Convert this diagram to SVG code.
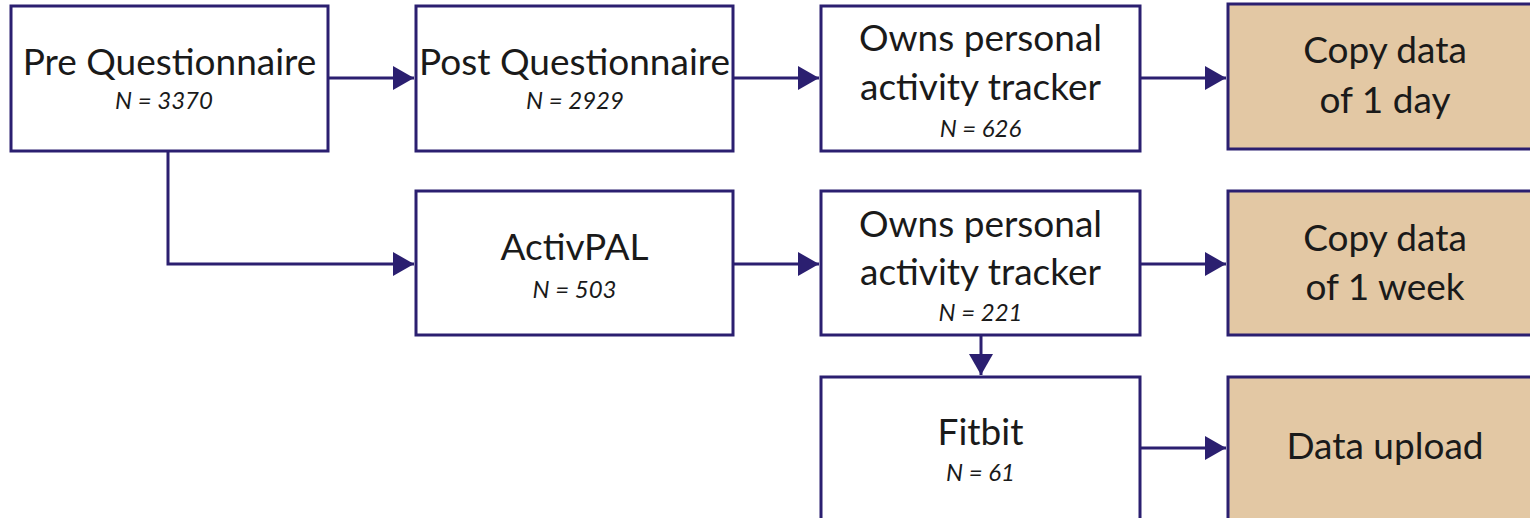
<svg xmlns="http://www.w3.org/2000/svg" width="1530" height="518" viewBox="0 0 1530 518">
<style>
.box{fill:#ffffff;stroke:#2b1f70;stroke-width:3}
.out{fill:#e3c8a4;stroke:#2b1f70;stroke-width:3}
.t{font-family:Lato,"Open Sans",sans-serif;font-size:37px;fill:#1a1a1a;text-anchor:middle}
.n{font-family:Lato,"Open Sans",sans-serif;font-size:24px;font-style:italic;fill:#1a1a1a;text-anchor:middle}
.c{fill:none;stroke:#2b1f70;stroke-width:3}
</style>
<defs>
<marker id="ah" markerWidth="8" markerHeight="8" refX="7" refY="4" orient="auto" markerUnits="strokeWidth">
<path d="M0,0 L7,4 L0,8 z" fill="#2b1f70"/>
</marker>
</defs>
<rect width="1530" height="518" fill="#ffffff"/>
<g id="connectors">
<path class="c" d="M328,78 H414" marker-end="url(#ah)"/>
<path class="c" d="M733,78 H819" marker-end="url(#ah)"/>
<path class="c" d="M1140,78 H1226" marker-end="url(#ah)"/>
<path class="c" d="M168,151 V264 H414" marker-end="url(#ah)"/>
<path class="c" d="M733,264 H819" marker-end="url(#ah)"/>
<path class="c" d="M1140,264 H1226" marker-end="url(#ah)"/>
<path class="c" d="M981,335 V375" marker-end="url(#ah)"/>
<path class="c" d="M1140,448 H1226" marker-end="url(#ah)"/>
</g>
<g id="pre">
<rect class="box" x="11" y="6" width="317" height="145"/>
<text class="t" x="169.5" y="75">Pre Questionnaire</text>
<text class="n" x="164" y="109">N = 3370</text>
</g>
<g id="post">
<rect class="box" x="416" y="6" width="317" height="145"/>
<text class="t" x="574.5" y="75">Post Questionnaire</text>
<text class="n" x="575" y="109">N = 2929</text>
</g>
<g id="owns1">
<rect class="box" x="821" y="6" width="319" height="145"/>
<text class="t" x="980.5" y="51">Owns personal</text>
<text class="t" x="980.5" y="100">activity tracker</text>
<text class="n" x="980.5" y="137">N = 626</text>
</g>
<g id="copy1day">
<rect class="out" x="1228" y="4" width="320" height="145"/>
<text class="t" x="1385" y="63">Copy data</text>
<text class="t" x="1385" y="113">of 1 day</text>
</g>
<g id="activpal">
<rect class="box" x="416" y="191" width="317" height="144"/>
<text class="t" x="574.5" y="260">ActivPAL</text>
<text class="n" x="574.5" y="298">N = 503</text>
</g>
<g id="owns2">
<rect class="box" x="821" y="191" width="319" height="144"/>
<text class="t" x="980.5" y="237">Owns personal</text>
<text class="t" x="980.5" y="285">activity tracker</text>
<text class="n" x="980.5" y="321">N = 221</text>
</g>
<g id="copy1week">
<rect class="out" x="1228" y="191" width="320" height="144"/>
<text class="t" x="1385" y="251">Copy data</text>
<text class="t" x="1385" y="300">of 1 week</text>
</g>
<g id="fitbit">
<rect class="box" x="821" y="377" width="319" height="150"/>
<text class="t" x="980.5" y="445">Fitbit</text>
<text class="n" x="980.5" y="481">N = 61</text>
</g>
<g id="dataupload">
<rect class="out" x="1228" y="377" width="320" height="150"/>
<text class="t" x="1385" y="459">Data upload</text>
</g>
</svg>
